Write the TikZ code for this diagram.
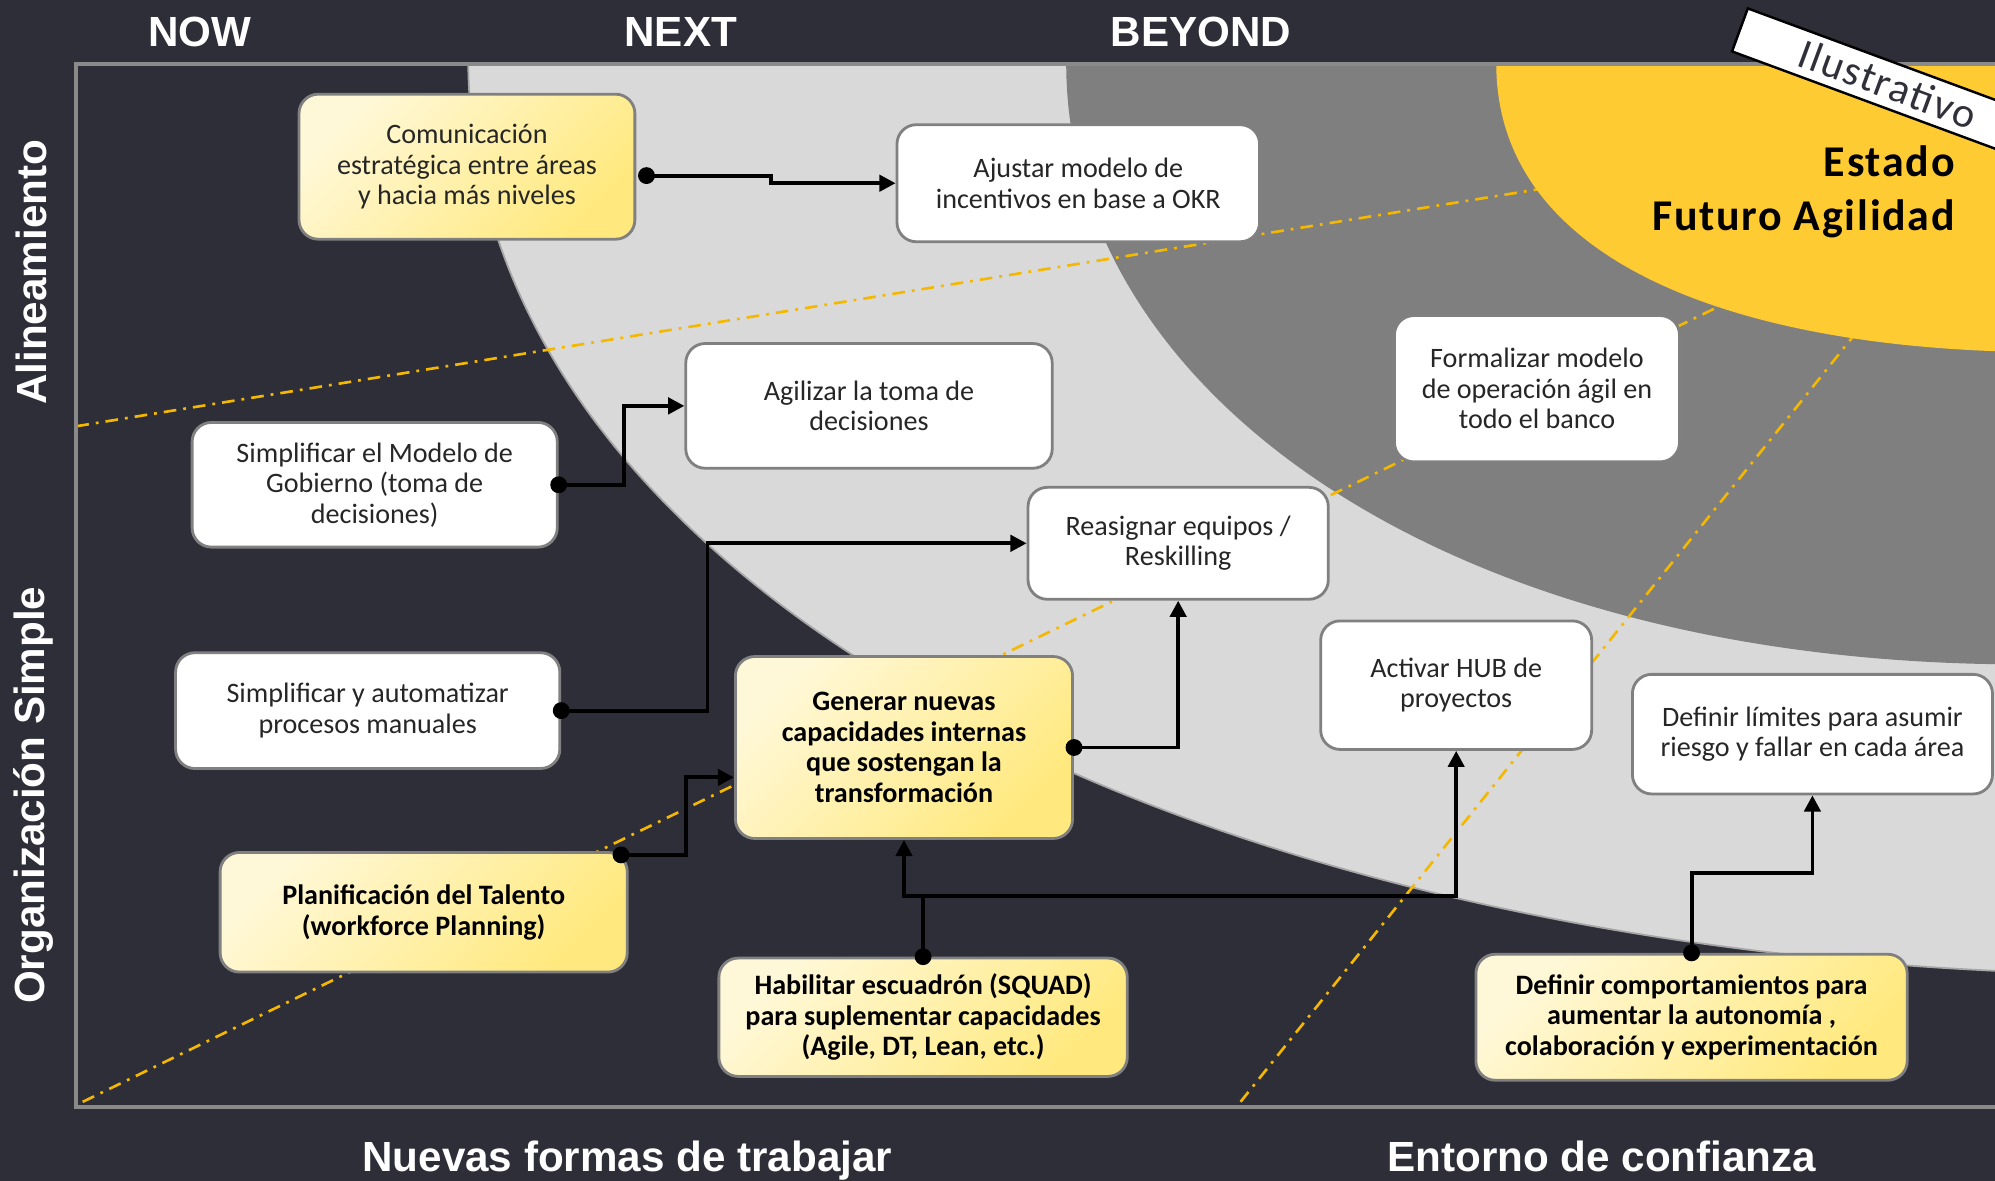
\documentclass[tikz,border=0pt]{standalone}
\usepackage{fontspec}
\setmainfont{Carlito}
\newfontfamily\headfont{Liberation Sans}
\newfontfamily\tagfont[LetterSpace=4]{Carlito}
\usetikzlibrary{arrows.meta}

\definecolor{bgdark}{HTML}{2E2E38}
\definecolor{lightzone}{HTML}{D9D9D9}
\definecolor{midzone}{HTML}{7F7F7F}
\definecolor{goalzone}{HTML}{FFCB33}
\definecolor{guidegold}{HTML}{F5B800}
\definecolor{framegray}{HTML}{8A8A8A}
\definecolor{cardline}{HTML}{808080}
\definecolor{cardtext}{HTML}{262626}
\definecolor{creamA}{HTML}{FFF8D8}
\definecolor{creamB}{HTML}{FFE97E}
\definecolor{bannertext}{HTML}{30303A}

\newcommand\pxu{0.12723mm}

\begin{document}
\begin{tikzpicture}[x=0.12723mm, y=-0.12723mm,
  card/.style={draw=cardline, line width=0.8pt, rounded corners=5.5pt,
    align=center, inner sep=0pt, text=cardtext,
    font=\fontsize{8}{8.7}\selectfont},
  whitecard/.style={card, fill=white},
  creamcard/.style={card, top color=creamA, bottom color=creamB,
    shading angle=45},
  goldcard/.style={creamcard, text=black,
    font=\fontsize{8}{8.7}\selectfont\bfseries},
  sized/.style 2 args={minimum width=#1*\pxu, minimum height=#2*\pxu},
  link/.style={line width=1.1pt, black, -{Triangle[length=4.6pt,width=4.6pt]}},
  plainlink/.style={line width=1.1pt, black},
  knob/.style={fill=black},
  guide/.style={guidegold, line width=0.75pt,
    dash pattern=on 3.6pt off 2pt on 0.8pt off 2pt},
  headtxt/.style={text=white, inner sep=0pt,
    font=\headfont\bfseries\fontsize{12}{14}\selectfont},
  axistxt/.style={text=white, inner sep=0pt, anchor=base,
    font=\headfont\bfseries\fontsize{12}{14}\selectfont},
]
% page background
\fill[bgdark] (0,0) rectangle (1568,928);
\useasboundingbox (0,0) rectangle (1568,928);

% zones inside the frame
\begin{scope}
  \clip (60,50) rectangle (1568,870);
  \fill[lightzone] (368,50) .. controls (372,440) and (880,730) .. (1568,763)
    -- (1600,763) -- (1600,40) -- (368,40) -- cycle;
  \draw[gray!70, line width=0.5pt] (368,50) .. controls (372,440) and (880,730) .. (1568,763);
  \fill[midzone] (838,50) .. controls (838,300) and (1120,515) .. (1568,522)
    -- (1600,522) -- (1600,40) -- (838,40) -- cycle;
  % dash-dot guide lines
  \draw[guide] (60,335) -- (1300,134);
  \draw[guide] (65,866) -- (1400,217);
  \draw[guide] (975,866) -- (1480,235);
  % target state
  \fill[goalzone] (1176,50) .. controls (1176,200) and (1350,268) .. (1568,276)
    -- (1600,276) -- (1600,40) -- (1176,40) -- cycle;
\end{scope}

% frame
\draw[framegray, line width=1.1pt] (1570,50) -- (60,50) -- (60,870) -- (1570,870);

% column and row headings
\node[headtxt] (now) at (157,25) {NOW};
\node[headtxt] (next) at (535,25) {NEXT};
\node[headtxt] (beyond) at (944,25) {BEYOND};
\node[headtxt, rotate=90] (rowA) at (25,214) {Alineamiento};
\node[headtxt, rotate=90] (rowB) at (26,625) {Organización Simple};
\node[axistxt] (axisA) at (493,921) {Nuevas formas de trabajar};
\node[axistxt] (axisB) at (1259,921) {Entorno de confianza};

% target state label
\node[anchor=base east, inner sep=0pt,
  font=\tagfont\bfseries\fontsize{12.5}{15}\selectfont] (goal1) at (1537,139) {Estado};
\node[anchor=base east, inner sep=0pt,
  font=\tagfont\bfseries\fontsize{12.5}{15}\selectfont] (goal2) at (1537,181) {Futuro Agilidad};

% corner banner
\filldraw[fill=white, draw=black, line width=0.7pt]
  (1373.7,6.6) -- (1673.9,117.6) -- (1661.5,151.4) -- (1361.3,40.4) -- cycle;
\node[rotate=-20.3, inner sep=0pt, text=bannertext,
  font=\tagfont\fontsize{12}{14}\selectfont] (tag) at (1484,66) {Ilustrativo};

% initiatives
\node[creamcard, sized={264}{114}] (com) at (367,131)    {Comunicación\\estratégica entre áreas\\y hacia más niveles};
\node[whitecard, sized={285}{92}]  (aju) at (847.5,144)  {Ajustar modelo de\\incentivos en base a OKR};
\node[whitecard, sized={288}{98}]  (agi) at (683,319)    {Agilizar la toma de\\decisiones};
\node[whitecard, sized={287}{98}]  (smg) at (294.5,381)  {Simplificar el Modelo de\\Gobierno (toma de\\decisiones)};
\node[whitecard, sized={236}{88}]  (rea) at (926,427)    {Reasignar equipos /\\Reskilling};
\node[whitecard, sized={224}{115}] (frm) at (1208,305.5) {Formalizar modelo\\de operación ágil en\\todo el banco};
\node[whitecard, sized={302}{91}]  (spa) at (289,558.5)  {Simplificar y automatizar\\procesos manuales};
\node[goldcard,  sized={265}{143}] (gen) at (710.5,587.5){Generar nuevas\\capacidades internas\\que sostengan la\\transformación};
\node[whitecard, sized={213}{101}] (hub) at (1144.5,538.5){Activar HUB de\\proyectos};
\node[whitecard, sized={283}{94}]  (lim) at (1424.5,577) {Definir límites para asumir\\riesgo y fallar en cada área};
\node[goldcard,  sized={320}{94}]  (pla) at (333,717)    {Planificación del Talento\\(workforce Planning)};
\node[goldcard,  sized={321}{93}]  (hab) at (725.5,799.5){Habilitar escuadrón (SQUAD)\\para suplementar capacidades\\(Agile, DT, Lean, etc.)};
\node[goldcard,  sized={339}{99}]  (beh) at (1329.5,799.5){Definir comportamientos para\\aumentar la autonomía ,\\colaboración y experimentación};

% connectors
\coordinate (s1) at ([shift={(8,7)}]com.east);
\coordinate (s5) at ([shift={(-6,3)}]pla.north east);
\coordinate (g5) at ([shift={(0,23.5)}]gen.west);
\coordinate (hj) at ([shift={(0,-48)}]hab.north);

\draw[link] (s1) -- ++(98,0) |- (aju.west);
\draw[link] (smg.east) -- ++(51,0) |- (agi.west);
\draw[link] (spa.east) -- ++(115,0) |- (rea.west);
\draw[link] (gen.east) -| (rea.south);
\draw[link] (s5) -- ++(51,0) |- (g5);
\draw[plainlink] (hab.north) -- (hj);
\draw[link] (hj) -| (gen.south);
\draw[link] (hj) -| (hub.south);
\draw[link] (beh.north) -- ++(0,-63) -| (lim.south);

\foreach \p in {s1, smg.east, spa.east, gen.east, s5, hab.north, beh.north}
  \fill[knob] (\p) circle[radius=2.4pt];
\end{tikzpicture}
\end{document}
